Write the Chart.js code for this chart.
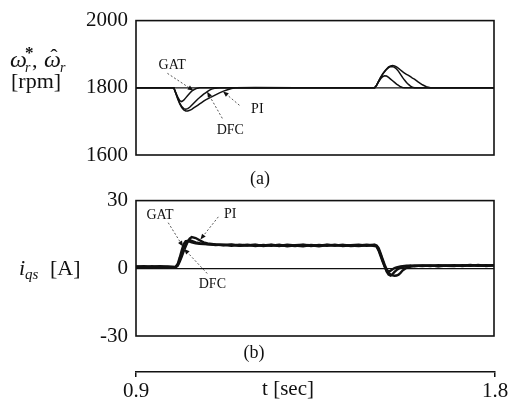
<!DOCTYPE html>
<html>
<head>
<meta charset="utf-8">
<script src="https://cdn.jsdelivr.net/npm/chart.js@4.4.0/dist/chart.umd.min.js"></script>
<style>
  html, body { margin: 0; padding: 0; background: #fff; }
  body { width: 518px; height: 403px; position: relative; overflow: hidden; }
  canvas { position: absolute; left: 0; }
  #speed { top: 0; }
  #current { top: 180px; }
  #time { top: 360px; }
</style>
</head>
<body>
<canvas id="speed" width="518" height="195"></canvas>
<canvas id="current" width="518" height="185"></canvas>
<canvas id="time" width="518" height="43"></canvas>
<script>
// ---- data ----
const timeTicks = [0.9, 1.8];
const speedTicks = [1600, 1800, 2000];
const currentTicks = [-30, 0, 30];

// speed reference w_r*
const refTime = [0.9, 1.8];
const refSpeed = [1800, 1800];

// estimated speed, (a)
const tSpeed = [
  0.900, 0.990, 0.995, 1.000, 1.005, 1.010, 1.015, 1.020, 1.025, 1.030,
  1.035, 1.040, 1.045, 1.050, 1.055, 1.060, 1.065, 1.070, 1.075, 1.080,
  1.085, 1.090, 1.100, 1.110, 1.120, 1.130, 1.140, 1.150, 1.200, 1.300,
  1.400, 1.495, 1.500, 1.505, 1.510, 1.515, 1.520, 1.525, 1.530, 1.535,
  1.540, 1.545, 1.550, 1.555, 1.560, 1.565, 1.570, 1.575, 1.580, 1.585,
  1.590, 1.595, 1.600, 1.610, 1.620, 1.630, 1.640, 1.650, 1.700, 1.800
];
const speedGAT = [
  1800, 1800, 1800, 1786, 1772, 1762, 1759, 1763, 1770, 1777,
  1784, 1790, 1794, 1797, 1799, 1800, 1800, 1800, 1800, 1800,
  1800, 1800, 1800, 1800, 1800, 1800, 1800, 1800, 1800, 1800,
  1800, 1800, 1800, 1807, 1818, 1827, 1833, 1836, 1835, 1831,
  1826, 1821, 1816, 1811, 1807, 1803, 1801, 1800, 1800, 1800,
  1800, 1800, 1800, 1800, 1800, 1800, 1800, 1800, 1800, 1800
];
const speedDFC = [
  1800, 1800, 1800, 1784, 1768, 1754, 1744, 1738, 1736, 1738,
  1742, 1748, 1754, 1760, 1766, 1771, 1776, 1781, 1785, 1789,
  1793, 1796, 1799, 1800, 1800, 1800, 1800, 1800, 1800, 1800,
  1800, 1800, 1800, 1808, 1820, 1831, 1840, 1848, 1855, 1860,
  1863, 1863, 1861, 1856, 1849, 1840, 1831, 1823, 1816, 1810,
  1805, 1802, 1800, 1800, 1800, 1800, 1800, 1800, 1800, 1800
];
const speedPI = [
  1800, 1800, 1800, 1784, 1767, 1752, 1741, 1734, 1731, 1731,
  1733, 1736, 1740, 1744, 1748, 1752, 1756, 1760, 1764, 1767,
  1770, 1773, 1779, 1785, 1790, 1794, 1798, 1800, 1801, 1800,
  1800, 1800, 1800, 1808, 1820, 1831, 1841, 1849, 1856, 1862,
  1865, 1866, 1865, 1862, 1858, 1853, 1848, 1844, 1840, 1837,
  1833, 1829, 1826, 1817, 1809, 1803, 1800, 1800, 1800, 1800
];

// q-axis current, (b)
const tCurrent = [
  0.900, 0.920, 0.940, 0.960, 0.980, 1.000,
  1.005, 1.010, 1.015, 1.020, 1.025, 1.030, 1.035, 1.040, 1.050, 1.060, 1.070, 1.080,
  1.100, 1.120, 1.140, 1.160, 1.180, 1.200, 1.220, 1.240, 1.260, 1.280, 1.300,
  1.320, 1.340, 1.360, 1.380, 1.400, 1.420, 1.440, 1.460, 1.480, 1.500,
  1.505, 1.510, 1.515, 1.520, 1.525, 1.530, 1.535, 1.540, 1.545, 1.550, 1.555,
  1.560, 1.565, 1.570, 1.580, 1.590, 1.600,
  1.620, 1.640, 1.660, 1.680, 1.700, 1.720, 1.740, 1.760, 1.780, 1.800
];
const currentGAT = [
  0.6, 0.9, 0.5, 0.8, 0.6, 0.7,
  2.0, 4.8, 8.0, 10.8, 12.0, 12.1, 11.8, 11.5, 11.1, 10.9, 10.8, 10.6,
  10.5, 10.2, 10.6, 10.1, 10.4, 9.9, 10.3, 10.0, 10.4, 9.8, 10.2,
  10.5, 9.9, 10.3, 10.0, 10.4, 9.9, 10.2, 10.5, 10.0, 10.3,
  9.6, 7.8, 5.4, 3.0, 0.8, -0.9, -1.5, -1.1, -0.4, 0.1, 0.4,
  0.6, 0.8, 0.9, 1.1, 0.9, 1.2,
  1.0, 1.3, 0.9, 1.2, 1.4, 1.0, 1.3, 1.1, 1.4, 1.2
];
const currentDFC = [
  0.8, 0.5, 0.9, 0.6, 0.8, 0.5,
  1.5, 3.6, 6.0, 8.4, 10.6, 12.0, 12.5, 12.2, 11.5, 11.1, 10.8, 10.7,
  10.3, 10.5, 10.0, 10.4, 10.1, 10.5, 9.9, 10.3, 9.9, 10.4, 10.1,
  9.8, 10.3, 10.0, 10.5, 10.1, 10.3, 9.9, 10.1, 10.4, 9.9,
  9.8, 8.3, 6.0, 3.5, 1.0, -1.4, -2.8, -3.2, -2.6, -1.6, -0.8,
  -0.2, 0.3, 0.6, 0.9, 1.2, 0.9,
  1.3, 1.0, 1.4, 1.1, 1.0, 1.4, 1.1, 1.5, 1.0, 1.3
];
const currentPI = [
  0.7, 0.8, 0.6, 0.9, 0.5, 0.6,
  1.2, 3.0, 5.2, 7.6, 9.8, 11.8, 13.2, 13.8, 13.4, 12.4, 11.5, 11.0,
  10.6, 10.3, 10.4, 10.0, 10.2, 10.3, 10.1, 10.5, 10.0, 10.2, 9.9,
  10.3, 10.2, 9.8, 10.3, 10.1, 10.4, 10.1, 9.9, 10.2, 10.4,
  10.1, 9.0, 6.6, 4.1, 1.6, -0.4, -1.9, -2.8, -3.1, -3.3, -3.2,
  -2.8, -2.0, -1.0, 0.2, 0.8, 1.1,
  1.1, 1.2, 1.0, 1.3, 1.1, 1.2, 1.5, 1.2, 1.1, 1.4
];

// ---- styling ----
const INK = '#111';
const SERIF = '"Liberation Serif", "Times New Roman", serif';

const pts = (ts, ys) => ts.map((t, i) => ({ x: t, y: ys[i] }));
const trace = (ts, ys, w) => ({
  data: pts(ts, ys),
  borderColor: INK,
  borderWidth: w,
  pointRadius: 0,
  tension: 0,
  fill: false
});

function drawCallout(ctx, chart, c) {
  const sx = chart.scales.x, sy = chart.scales.y;
  const x0 = sx.getPixelForValue(c.from[0]), y0 = sy.getPixelForValue(c.from[1]);
  const x1 = sx.getPixelForValue(c.tip[0]), y1 = sy.getPixelForValue(c.tip[1]);
  ctx.strokeStyle = '#555';
  ctx.lineWidth = 1;
  ctx.setLineDash([2, 2]);
  ctx.beginPath();
  ctx.moveTo(x0, y0);
  ctx.lineTo(x1, y1);
  ctx.stroke();
  ctx.setLineDash([]);
  const a = Math.atan2(y1 - y0, x1 - x0);
  ctx.fillStyle = INK;
  ctx.beginPath();
  ctx.moveTo(x1, y1);
  ctx.lineTo(x1 - 6 * Math.cos(a - 0.4), y1 - 6 * Math.sin(a - 0.4));
  ctx.lineTo(x1 - 6 * Math.cos(a + 0.4), y1 - 6 * Math.sin(a + 0.4));
  ctx.closePath();
  ctx.fill();
  ctx.font = '14px ' + SERIF;
  ctx.textAlign = 'center';
  ctx.textBaseline = 'middle';
  ctx.fillText(c.text, sx.getPixelForValue(c.label[0]), sy.getPixelForValue(c.label[1]));
}

// frame, callouts and free text for each panel
const figurePlugin = {
  id: 'figure',
  afterDatasetsDraw(chart, args, opts) {
    const { ctx, chartArea: a } = chart;
    ctx.save();
    if (opts.frame) {
      ctx.strokeStyle = INK;
      ctx.lineWidth = 1.6;
      ctx.strokeRect(a.left, a.top, a.right - a.left, a.bottom - a.top);
    }
    (opts.callouts || []).forEach(c => drawCallout(ctx, chart, c));
    ctx.fillStyle = INK;
    (opts.texts || []).forEach(t => {
      ctx.font = t.font;
      ctx.textAlign = t.align || 'left';
      ctx.textBaseline = t.baseline || 'alphabetic';
      ctx.fillText(t.text, t.x, t.y);
    });
    ctx.restore();
  }
};

function panelOptions(yMin, yMax, yTicks, pad, figure, zeroLine) {
  return {
    responsive: false,
    animation: false,
    events: [],
    layout: { padding: { left: 0, right: 24, top: pad[0], bottom: pad[1] } },
    plugins: { legend: { display: false }, tooltip: { enabled: false }, figure },
    scales: {
      x: { type: 'linear', min: 0.9, max: 1.8, display: false },
      y: {
        min: yMin, max: yMax,
        afterBuildTicks: ax => { ax.ticks = yTicks.map(v => ({ value: v })); },
        afterFit: ax => { ax.width = 136; },
        border: { display: false },
        grid: {
          drawTicks: false,
          lineWidth: 1.2,
          color: c => (zeroLine && c.tick && c.tick.value === 0) ? INK : 'rgba(0,0,0,0)'
        },
        ticks: {
          padding: 8,
          color: INK,
          font: { family: SERIF, size: 21 },
          callback: v => String(v)
        }
      }
    }
  };
}

// ---- (a) speed ----
new Chart(document.getElementById('speed'), {
  type: 'line',
  data: {
    datasets: [
      trace(refTime, refSpeed, 1.2),
      trace(tSpeed, speedPI, 1.5),
      trace(tSpeed, speedDFC, 1.5),
      trace(tSpeed, speedGAT, 1.5)
    ]
  },
  options: panelOptions(1600, 2000, speedTicks, [15, 40], {
    frame: true,
    callouts: [
      { text: 'GAT', label: [0.991, 1866], from: [0.979, 1843], tip: [1.044, 1792] },
      { text: 'PI', label: [1.205, 1737], from: [1.160, 1748], tip: [1.119, 1789] },
      { text: 'DFC', label: [1.137, 1674], from: [1.117, 1709], tip: [1.079, 1788] }
    ],
    texts: [
      { text: 'ω', x: 10, y: 67, font: 'italic 24px ' + SERIF },
      { text: 'r', x: 25, y: 72, font: 'italic 14px ' + SERIF },
      { text: '*', x: 25, y: 58, font: 'bold 17px ' + SERIF },
      { text: ',', x: 32, y: 67, font: '22px ' + SERIF },
      { text: 'ω', x: 44, y: 67, font: 'italic 24px ' + SERIF },
      { text: 'ˆ', x: 54, y: 64, font: '22px ' + SERIF, align: 'center' },
      { text: 'r', x: 60, y: 72, font: 'italic 14px ' + SERIF },
      { text: '[rpm]', x: 11, y: 88, font: '22px ' + SERIF },
      { text: '(a)', x: 260, y: 179, font: '18px ' + SERIF, align: 'center', baseline: 'middle' }
    ]
  }, false),
  plugins: [figurePlugin]
});

// ---- (b) current ----
new Chart(document.getElementById('current'), {
  type: 'line',
  data: {
    datasets: [
      trace(tCurrent, currentPI, 2.4),
      trace(tCurrent, currentDFC, 2.4),
      trace(tCurrent, currentGAT, 2.4)
    ]
  },
  options: panelOptions(-30, 30, currentTicks, [15, 29], {
    frame: true,
    callouts: [
      { text: 'GAT', label: [0.9605, 23.6], from: [0.981, 20.2], tip: [1.018, 9.7] },
      { text: 'PI', label: [1.137, 24.0], from: [1.107, 22.8], tip: [1.062, 12.8] },
      { text: 'DFC', label: [1.092, -7.0], from: [1.079, -2.3], tip: [1.021, 8.6] }
    ],
    texts: [
      { text: 'i', x: 19, y: 95, font: 'italic 22px ' + SERIF },
      { text: 'qs', x: 25, y: 99, font: 'italic 15px ' + SERIF },
      { text: '[A]', x: 50, y: 95, font: '22px ' + SERIF },
      { text: '(b)', x: 254, y: 173, font: '18px ' + SERIF, align: 'center', baseline: 'middle' }
    ]
  }, true),
  plugins: [figurePlugin]
});

// ---- time axis ----
new Chart(document.getElementById('time'), {
  type: 'line',
  data: { datasets: [] },
  options: {
    responsive: false,
    animation: false,
    events: [],
    layout: { padding: { left: 136, right: 23, top: 8, bottom: 0 } },
    plugins: {
      legend: { display: false },
      tooltip: { enabled: false },
      figure: { texts: [{ text: 't [sec]', x: 288, y: 19, font: '21px ' + SERIF, align: 'center', baseline: 'top' }] }
    },
    scales: {
      x: {
        type: 'linear', min: 0.9, max: 1.8,
        afterBuildTicks: ax => { ax.ticks = timeTicks.map(v => ({ value: v })); },
        afterFit: ax => { ax.height = 31; },
        border: { display: true, color: INK, width: 1.5 },
        grid: { drawOnChartArea: false, drawTicks: true, tickLength: 5, color: INK, lineWidth: 1.5 },
        ticks: {
          padding: 2, color: INK, maxRotation: 0, autoSkip: false,
          font: { family: SERIF, size: 21 },
          callback: v => Number(v).toFixed(1)
        }
      },
      y: { display: false }
    }
  },
  plugins: [figurePlugin]
});
</script>
</body>
</html>
